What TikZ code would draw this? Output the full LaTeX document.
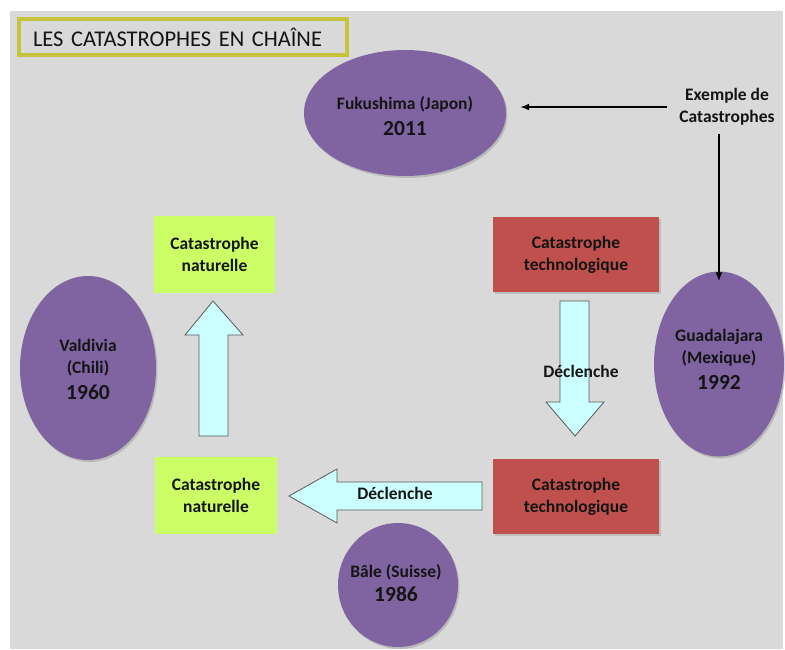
\documentclass[tikz,border=0pt]{standalone}
\usepackage{fontspec}
\setmainfont{Carlito}
\usetikzlibrary{shapes.geometric,shadows,arrows.meta}
\definecolor{bgc}{HTML}{D9D9D9}
\definecolor{titleol}{HTML}{C6C43C}
\definecolor{purp}{HTML}{8064A2}
\definecolor{redb}{HTML}{C0504D}
\definecolor{greenb}{HTML}{CCFF66}
\definecolor{cyanb}{HTML}{CCFFFF}
\definecolor{txt}{HTML}{141414}
\newcommand\yrfont{\fontsize{21.5}{25}\selectfont\bfseries}
\tikzset{
  lbl/.style={font=\fontsize{17.5}{22}\selectfont\bfseries, text=txt, align=center},
  ell/.style={ellipse, fill=purp, inner sep=0pt,
    drop shadow={shadow xshift=1.5pt, shadow yshift=-2pt, opacity=0.35}},
  redbox/.style={rectangle, fill=redb, inner sep=0pt, lbl,
    drop shadow={shadow xshift=1.5pt, shadow yshift=-2pt, opacity=0.3}},
  greenbox/.style={rectangle, fill=greenb, inner sep=0pt, lbl},
  blockarr/.style={fill=cyanb, draw=black!65, line width=0.8pt, line join=miter},
  arr/.style={line width=1.6pt, -{Latex[length=9pt,width=7pt]}}
}
\begin{document}
\begin{tikzpicture}[x=1pt,y=-1pt]
\useasboundingbox (0,0) rectangle (785,649);
\fill[white] (0,0) rectangle (785,649);
\fill[bgc] (10,11) rectangle (783,649);

% title
\node[draw=titleol, line width=3.5pt, minimum width=328pt, minimum height=36pt,
  text width=300pt, inner xsep=14pt, align=left,
  font=\fontsize{22.5}{24}\selectfont, text=txt] (title) at (183,37) {LES CATASTROPHES EN CHAÎNE};

% ellipses
\node[ell, minimum width=202pt, minimum height=126pt] (fuku) at (405,113) {};
\node[lbl] (fukut) at (405,116.5) {Fukushima (Japon)\\[4pt]{\yrfont 2011}};
\node[ell, minimum width=130pt, minimum height=185pt] (guad) at (719,364) {};
\node[lbl] (guadt) at (719,359.5) {Guadalajara\\(Mexique)\\[4pt]{\yrfont 1992}};
\node[ell, minimum width=136pt, minimum height=184pt] (vald) at (88,368) {};
\node[lbl] (valdt) at (88,369.5) {Valdivia\\(Chili)\\[4pt]{\yrfont 1960}};
\node[ell, minimum width=120pt, minimum height=124pt] (bale) at (398,585) {};
\node[lbl] (balet) at (396,583.5) {Bâle (Suisse)\\[2pt]{\yrfont 1986}};

% boxes
\node[redbox, minimum width=166pt, minimum height=75pt] (tech1) at (576,254.5)
  {Catastrophe\\technologique};
\node[redbox, minimum width=166pt, minimum height=75pt] (tech2) at (576,496.5)
  {Catastrophe\\technologique};
\node[greenbox, minimum width=121pt, minimum height=77pt] (nat1) at (214.5,254.5)
  {Catastrophe\\naturelle};
\node[greenbox, minimum width=122pt, minimum height=77pt] (nat2) at (216,495.5)
  {Catastrophe\\naturelle};

% example text and arrows
\node[lbl] (ex) at (727,107) {Exemple de\\Catastrophes};
\coordinate (vtop) at (719,134);
\draw[arr] ([xshift=-9pt]ex.west) -- ([xshift=14pt]ex.west -| fuku.east);
\draw[arr] (vtop) -- ([yshift=-10pt]guad.north);

% block arrows
\draw[blockarr] (560,301) -- (589,301) -- (589,402) -- (604,402) -- (575,436)
  -- (546,402) -- (560,402) -- cycle;
\draw[blockarr] (482,482) -- (482,510) -- (337,510) -- (337,523) -- (289,496)
  -- (337,469) -- (337,482) -- cycle;
\draw[blockarr] (199,436) -- (228,436) -- (228,335) -- (243,335) -- (213,301)
  -- (185,335) -- (199,335) -- cycle;
\node[lbl] (dec1) at (581,371) {Déclenche};
\node[lbl] (dec2) at (395,493) {Déclenche};
\end{tikzpicture}
\end{document}
